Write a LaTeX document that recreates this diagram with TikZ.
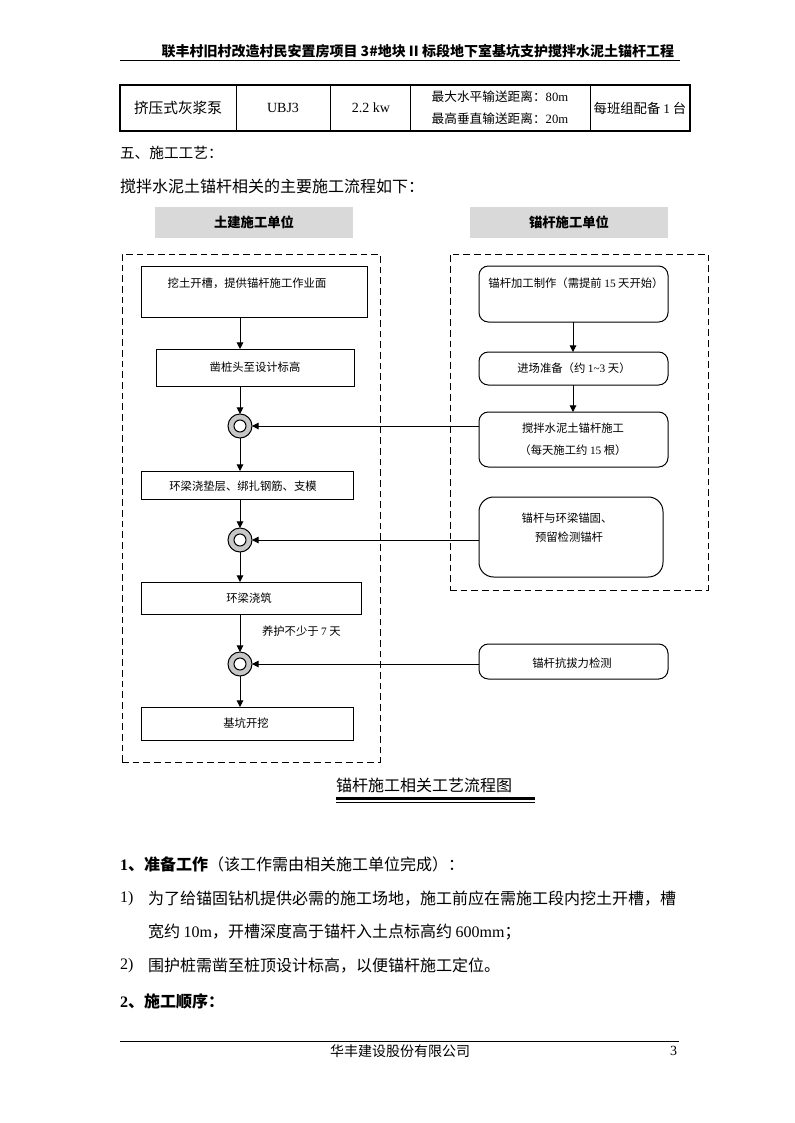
\documentclass[tikz,border=0pt]{standalone}
\usepackage{fontspec}
\setmainfont{Liberation Serif}
\newfontfamily\cjk{Noto Sans CJK SC}
\usetikzlibrary{arrows.meta,fit}
\newcommand{\fsz}[1]{\fontsize{#1}{#1}\selectfont}
\begin{document}
\begin{tikzpicture}[x=0.75pt,y=-0.75pt,
  every node/.style={inner sep=0pt,outer sep=0pt},
  frame/.style={draw,line width=0.75pt},
  rframe/.style={draw,line width=0.75pt,rounded corners=7pt},
  rframebig/.style={draw,line width=0.75pt,rounded corners=11pt},
  dbox/.style={draw,line width=0.75pt,dash pattern=on 5pt off 3pt},
  gbox/.style={fill=black!15},
  arr/.style={-{Triangle[length=5pt,width=5pt]},line width=0.75pt},
  ftxt/.style={font=\cjk\fsz{8.5}},
  btxt/.style={font=\cjk\fsz{12}},
  ring/.style={circle,draw,line width=0.75pt,fill=black!22,minimum size=18pt},
  hole/.style={circle,draw,line width=0.75pt,fill=white,minimum size=9pt},
  rule/.style={line width=0.75pt}]
\useasboundingbox (0,0) rectangle (794,1123);
\fill[white] (0,0) rectangle (794,1123);

% header
\node[anchor=east,font=\cjk\bfseries\fsz{10.5}] (hdr) at (674,51) {联丰村旧村改造村民安置房项目 3\#地块 II 标段地下室基坑支护搅拌水泥土锚杆工程};
\coordinate (hl) at (120,61); \coordinate (hr) at (680,61);
\draw[rule] (hl) -- (hr);

% table
\node[fit={(120,85) (690,131)},draw,line width=1.5pt] (tbl) {};
\foreach \xx in {236,330,410,590} \draw[rule] (\xx,85) -- (\xx,131);
\node[font=\cjk\fsz{11}] (t1) at (178,108) {挤压式灰浆泵};
\node[font=\fsz{10.5}] (t2) at (283,108) {UBJ3};
\node[font=\fsz{10.5}] (t3) at (371,108) {2.2 kw};
\node[font=\cjk\fsz{9.5}] (t4a) at (500,97) {最大水平输送距离：{\rmfamily 80m}};
\node[font=\cjk\fsz{9.5}] (t4b) at (500,119) {最高垂直输送距离：{\rmfamily 20m}};
\node[font=\cjk\fsz{10}] (t5) at (640,108) {每班组配备 {\rmfamily 1} 台};

% section text
\node[anchor=west,font=\cjk\fsz{11}] (s5) at (120,153) {五、施工工艺：};
\node[anchor=west,font=\cjk\fsz{12}] (intro) at (120,186) {搅拌水泥土锚杆相关的主要施工流程如下：};

% column headers
\node[gbox,fit={(155,207) (353,238)}] (g1) {};
\node[font=\cjk\bfseries\fsz{10}] at (g1) {土建施工单位};
\node[gbox,fit={(470,207) (668,238)}] (g2) {};
\node[font=\cjk\bfseries\fsz{10}] at (g2) {锚杆施工单位};

% dashed groups
\node[dbox,fit={(122,254) (380,762)}] (dl) {};
\node[dbox,fit={(450,254) (708,590)}] (dr) {};

% left column
\node[frame,fit={(141,266) (367,317)}] (A) {};
\node[ftxt] at (247,283) {挖土开槽，提供锚杆施工作业面};
\node[frame,fit={(156,349) (354,386)}] (B) {};
\node[ftxt] at (255,367) {凿桩头至设计标高};
\node[ring] (C1) at (240,426) {}; \node[hole] at (C1) {};
\node[frame,fit={(141,471) (353,499)}] (C) {};
\node[ftxt] at (243,486) {环梁浇垫层、绑扎钢筋、支模};
\node[ring] (C2) at (240,540) {}; \node[hole] at (C2) {};
\node[frame,fit={(141,582) (361,614)}] (D) {};
\node[ftxt] at (249,598) {环梁浇筑};
\node[ftxt,anchor=west] (lbl) at (262,631) {养护不少于 {\rmfamily 7} 天};
\node[ring] (C3) at (240,664) {}; \node[hole] at (C3) {};
\node[frame,fit={(141,707) (353,740)}] (E) {};
\node[ftxt] at (246,723) {基坑开挖};

% right column
\node[rframe,fit={(479,266) (668,322)}] (F) {};
\node[ftxt] at (576,283) {锚杆加工制作（需提前 {\rmfamily 15} 天开始）};
\node[rframe,fit={(479,352) (668,385)}] (G) {};
\node[ftxt] at (574,368) {进场准备（约 {\rmfamily 1\textasciitilde 3} 天）};
\node[rframe,fit={(479,412) (668,467)}] (H) {};
\node[ftxt] at (573,428) {搅拌水泥土锚杆施工};
\node[ftxt] at (573,450) {（每天施工约 {\rmfamily 15} 根）};
\node[rframebig,fit={(479,497) (663,577)}] (I) {};
\node[ftxt] at (567,518) {锚杆与环梁锚固、};
\node[ftxt] at (569,537) {预留检测锚杆};
\node[rframe,fit={(479,644) (668,679)}] (J) {};
\node[ftxt] at (572,663) {锚杆抗拔力检测};

% connectors
\draw[arr] (A.south -| C1) -- (B.north -| C1);
\draw[arr] (B.south -| C1) -- (C1.north);
\draw[arr] (C1.south) -- (C.north -| C1);
\draw[arr] (C.south -| C1) -- (C2.north);
\draw[arr] (C2.south) -- (D.north -| C1);
\draw[arr] (D.south -| C1) -- (C3.north);
\draw[arr] (C3.south) -- (E.north -| C1);
\coordinate (fx) at (573,0);
\draw[arr] (F.south -| fx) -- (G.north -| fx);
\draw[arr] (G.south -| fx) -- (H.north -| fx);
\draw[arr] (C1 -| H.west) -- (C1.east);
\draw[arr] (C2 -| I.west) -- (C2.east);
\draw[arr] (C3 -| J.west) -- (C3.east);

% caption
\node[font=\cjk\fsz{12}] (cap) at (424,785) {锚杆施工相关工艺流程图};
\draw[line width=2.25pt] (336,798) -- (535,798);
\draw[rule] (336,802.5) -- (535,802.5);

% body text
\node[btxt,anchor=west] (p1) at (120,864) {{\bfseries{\rmfamily 1}、准备工作}（该工作需由相关施工单位完成）：};
\node[font=\fsz{12},anchor=west] (n1) at (120,899) {1)};
\node[btxt,anchor=west] (p2) at (148,899) {为了给锚固钻机提供必需的施工场地，施工前应在需施工段内挖土开槽，槽};
\node[btxt,anchor=west] (p3) at (148,932) {宽约 {\rmfamily 10m}，开槽深度高于锚杆入土点标高约 {\rmfamily 600mm}；};
\node[font=\fsz{12},anchor=west] (n2) at (120,966) {2)};
\node[btxt,anchor=west] (p4) at (148,966) {围护桩需凿至桩顶设计标高，以便锚杆施工定位。};
\node[btxt,anchor=west] (p5) at (120,1001) {{\bfseries{\rmfamily 2}、施工顺序：}};

% footer
\draw[rule] (120,1041) -- (679,1041);
\node[font=\cjk\fsz{10.5}] (ft) at (400,1051) {华丰建设股份有限公司};
\node[font=\fsz{10.5},anchor=east] (pg) at (677,1051) {3};
\end{tikzpicture}
\end{document}
